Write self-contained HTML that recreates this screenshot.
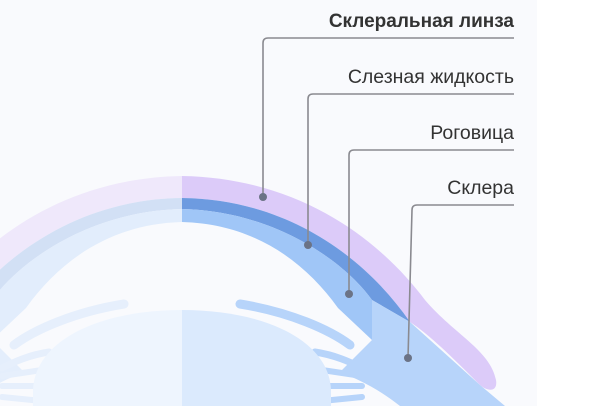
<!DOCTYPE html>
<html><head><meta charset="utf-8"><style>
html,body{margin:0;padding:0;width:600px;height:406px;overflow:hidden;background:#fff}
</style></head><body>
<svg width="600" height="406" viewBox="0 0 600 406" xmlns="http://www.w3.org/2000/svg" style="display:block">
<rect x="0" y="0" width="537" height="406" fill="#f9fafd"/>
<!-- left (faded mirror) -->
<g transform="translate(364,0) scale(-1,1)">
<path d="M182,176 C300,178 380,240 425,300 C455,335 490,350 496,380 C498,392 488,392 480,385 C455,360 430,335 410,322 C360,250 280,199 182,198 Z" fill="#efe8fb"/>
<path d="M182,198 C280,199 360,250 410,322 L372,300 C345,262 275,211 182,209 Z" fill="#d2e0f5"/>
<path d="M182,209 C275,211 345,262 372,300 L372,340 L338,308 C305,262 255,224 182,222 Z" fill="#e2edfc"/>
<path d="M372,300 L410,322 L480,385 L505,406 L400,406 C380,390 360,380 340,372 L372,340 Z" fill="#e4eefc"/>
<g stroke="#e6effc" stroke-linecap="round" fill="none">
<path d="M240,304 C290,312 330,330 350,345" stroke-width="9"/>
<path d="M315,352 C335,355 350,362 362,368" stroke-width="7"/>
<path d="M322,370 L362,376" stroke-width="6"/>
<path d="M322,386 L362,386" stroke-width="6"/>
<path d="M322,401 L362,397" stroke-width="6"/>
</g>
</g>
<!-- right -->
<path d="M182,176 C300,178 380,240 425,300 C455,335 490,350 496,380 C498,392 488,392 480,385 C455,360 430,335 410,322 C360,250 280,199 182,198 Z" fill="#dccbf9"/>
<path d="M182,198 C280,199 360,250 410,322 L372,300 C345,262 275,211 182,209 Z" fill="#6d9be0"/>
<path d="M182,209 C275,211 345,262 372,300 L372,340 L338,308 C305,262 255,224 182,222 Z" fill="#a0c6f7"/>
<path d="M372,300 L410,322 L480,385 L505,406 L400,406 C380,390 360,380 340,372 L372,340 Z" fill="#b7d4fa"/>
<g stroke="#b7d4fa" stroke-linecap="round" fill="none">
<path d="M240,304 C290,312 330,330 350,345" stroke-width="9"/>
<path d="M315,352 C335,355 350,362 362,368" stroke-width="7"/>
<path d="M322,370 L362,376" stroke-width="6"/>
<path d="M322,386 L362,386" stroke-width="6"/>
<path d="M322,401 L362,397" stroke-width="6"/>
</g>
<!-- crystalline lens -->
<path d="M182,310 C100,310 35,340 33,390 L33,406 L182,406 Z" fill="#eef5fe"/>
<path d="M182,310 C264,310 329,340 331,390 L331,406 L182,406 Z" fill="#dbeafd"/>
<!-- leaders -->
<g stroke="#8a8a90" stroke-width="1.6" fill="none">
<path d="M514,38 L268,38 Q263,38 263,43 L263,197"/>
<path d="M514,94 L313,94 Q308,94 308,99 L308,245"/>
<path d="M514,150 L354,150 Q349,150 349,155 L349,294"/>
<path d="M514,205 L417,205 Q412,205 412,210 L408,358"/>
</g>
<g fill="#6b7386">
<circle cx="263" cy="197" r="4"/>
<circle cx="308" cy="245" r="4"/>
<circle cx="349" cy="294" r="4"/>
<circle cx="408" cy="358" r="4"/>
</g>
<g font-family="Liberation Sans, sans-serif" font-size="19.5" fill="#333" text-anchor="end">
<text x="514" y="27" font-weight="bold" font-size="19">Склеральная линза</text>
<text x="514" y="83">Слезная жидкость</text>
<text x="514" y="139">Роговица</text>
<text x="514" y="194">Склера</text>
</g>
</svg>
</body></html>
